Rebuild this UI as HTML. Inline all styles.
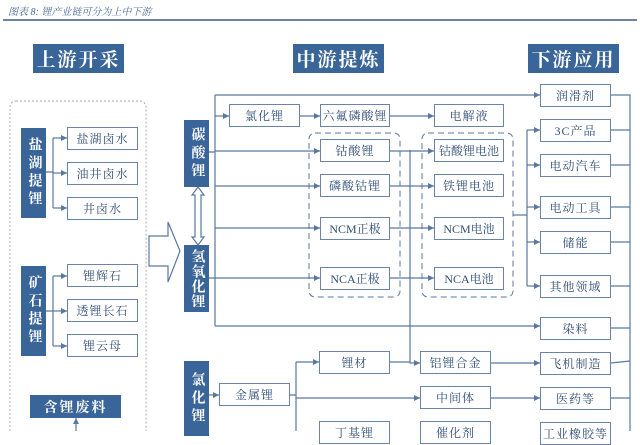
<!DOCTYPE html>
<html><head><meta charset="utf-8"><style>
body{margin:0;width:640px;height:431px;overflow:hidden;background:#fff;font-family:"Liberation Serif","Noto Serif CJK SC",serif;position:relative}
.b{position:absolute;box-sizing:border-box;border:1.5px solid #6b84a6;background:#fff;color:#2f4d78;font-size:12px;display:flex;align-items:center;justify-content:center;letter-spacing:1px}
.h{position:absolute;background:#3a6598;color:#fff;font-size:19px;font-weight:bold;display:flex;align-items:center;justify-content:center;letter-spacing:2px}
.v{position:absolute;background:#3a6598;color:#fff;font-size:14px;font-weight:bold;display:flex;align-items:center;justify-content:center;writing-mode:vertical-rl;letter-spacing:4px;text-orientation:upright}
svg{position:absolute;left:0;top:0}
</style></head><body>
<div style="position:absolute;left:8px;top:3px;font-size:10px;color:#4a6a96;font-style:italic">图表 8:  锂产业链可分为上中下游</div>
<svg width="640" height="431">
<defs><marker id="a" markerWidth="6" markerHeight="6" refX="5" refY="3" orient="auto"><path d="M0,0.5 L5,3 L0,5.5z" fill="#5a77a0"/></marker></defs>
<line x1="3" y1="20" x2="637" y2="20" stroke="#3d5a80" stroke-width="1.5"/>
<rect x="10" y="101" width="136" height="340" rx="6" fill="none" stroke="#aaa" stroke-dasharray="2,2"/>
<g stroke="#5a77a0" stroke-width="1.2" fill="none">
<path d="M46,172 H53 M53,138 V208"/>
<path d="M53,138 H67" marker-end="url(#a)"/><path d="M53,173 H67" marker-end="url(#a)"/><path d="M53,208 H67" marker-end="url(#a)"/>
<path d="M46,311 H53 M53,276 V346"/>
<path d="M53,276 H67" marker-end="url(#a)"/><path d="M53,311 H67" marker-end="url(#a)"/><path d="M53,346 H67" marker-end="url(#a)"/>
<path d="M76,431 V418" marker-end="url(#a)"/>
<path d="M209,152 H215 M215,95 V326 M209,278 H215"/>
<path d="M215,95 H540" marker-end="url(#a)"/>
<path d="M215,116 H229" marker-end="url(#a)"/>
<path d="M300,116 H320" marker-end="url(#a)"/>
<path d="M390,116 H434" marker-end="url(#a)"/>
<path d="M215,151 H320" marker-end="url(#a)"/>
<path d="M215,186 H320" marker-end="url(#a)"/>
<path d="M215,228 H320" marker-end="url(#a)"/>
<path d="M215,278 H320" marker-end="url(#a)"/>
<path d="M215,326 H540" marker-end="url(#a)"/>
<path d="M390,151 H434" marker-end="url(#a)"/>
<path d="M390,186 H434" marker-end="url(#a)"/>
<path d="M390,228 H434" marker-end="url(#a)"/>
<path d="M390,278 H434" marker-end="url(#a)"/>
<path d="M410,150 V363 H420" marker-end="url(#a)"/>
<path d="M513,215 H527 M527,130 V286"/>
<path d="M527,130 H540" marker-end="url(#a)"/><path d="M527,165 H540" marker-end="url(#a)"/><path d="M527,207 H540" marker-end="url(#a)"/><path d="M527,242 H540" marker-end="url(#a)"/><path d="M527,286 H540" marker-end="url(#a)"/>
<path d="M611,95 H630 V431 M611,130 H630 M611,165 H630 M611,207 H630 M611,242 H630 M611,286 H630 M611,328 H630 M611,363 L630,361 M611,398 H630"/>
<path d="M209,395 H219" marker-end="url(#a)"/>
<path d="M290,395 H296 M296,362 V431"/>
<path d="M296,362 H319" marker-end="url(#a)"/>
<path d="M296,398 H420" marker-end="url(#a)"/>
<path d="M390,362 H410"/>
<path d="M491,363 H540" marker-end="url(#a)"/>
<path d="M491,398 H540" marker-end="url(#a)"/>
</g>
<rect x="309" y="133" width="91" height="164" rx="6" fill="none" stroke="#5a77a0" stroke-dasharray="6,4"/>
<rect x="422" y="133" width="91" height="164" rx="6" fill="none" stroke="#5a77a0" stroke-dasharray="6,4"/>
<path d="M149,236 H168 V222 L180,251 L168,282 V266 H149z" fill="#fff" stroke="#5a77a0" stroke-width="1.2"/>
<path d="M198,187 L204,195 H201 V237 H204 L198,245 L192,237 H195 V195 H192z" fill="#fff" stroke="#5a77a0" stroke-width="1.2"/>
</svg>
<div class="h" style="left:33px;top:44px;width:91px;height:29px">上游开采</div>
<div class="h" style="left:293px;top:44px;width:91px;height:29px">中游提炼</div>
<div class="h" style="left:528px;top:44px;width:91px;height:29px">下游应用</div>
<div class="v" style="left:21px;top:128px;width:25px;height:90px">盐湖提锂</div>
<div class="v" style="left:21px;top:266px;width:25px;height:90px">矿石提锂</div>
<div class="h" style="left:30px;top:395px;width:91px;height:23px;font-size:14px">含锂废料</div>
<div class="b" style="left:67px;top:127px;width:71px;height:23px">盐湖卤水</div>
<div class="b" style="left:67px;top:162px;width:71px;height:23px">油井卤水</div>
<div class="b" style="left:67px;top:197px;width:71px;height:23px">井卤水</div>
<div class="b" style="left:67px;top:264px;width:71px;height:23px">锂辉石</div>
<div class="b" style="left:67px;top:299px;width:71px;height:23px">透锂长石</div>
<div class="b" style="left:67px;top:334px;width:71px;height:23px">锂云母</div>
<div class="v" style="left:184px;top:120px;width:25px;height:67px">碳酸锂</div>
<div class="v" style="left:184px;top:245px;width:25px;height:67px;letter-spacing:1px">氢氧化锂</div>
<div class="v" style="left:184px;top:361px;width:25px;height:75px">氯化锂</div>
<div class="b" style="left:229px;top:104px;width:71px;height:23px">氯化锂</div>
<div class="b" style="left:320px;top:104px;width:70px;height:23px">六氟磷酸锂</div>
<div class="b" style="left:434px;top:104px;width:70px;height:23px">电解液</div>
<div class="b" style="left:320px;top:139px;width:70px;height:23px">钴酸锂</div>
<div class="b" style="left:320px;top:174px;width:70px;height:23px">磷酸钴锂</div>
<div class="b" style="left:320px;top:217px;width:70px;height:23px;letter-spacing:0">NCM正极</div>
<div class="b" style="left:320px;top:267px;width:70px;height:23px;letter-spacing:0">NCA正极</div>
<div class="b" style="left:434px;top:139px;width:70px;height:23px;letter-spacing:0">钴酸锂电池</div>
<div class="b" style="left:434px;top:174px;width:70px;height:23px">铁锂电池</div>
<div class="b" style="left:434px;top:217px;width:70px;height:23px;letter-spacing:0">NCM电池</div>
<div class="b" style="left:434px;top:267px;width:70px;height:23px;letter-spacing:0">NCA电池</div>
<div class="b" style="left:540px;top:84px;width:71px;height:23px">润滑剂</div>
<div class="b" style="left:540px;top:119px;width:71px;height:23px">3C产品</div>
<div class="b" style="left:540px;top:154px;width:71px;height:23px">电动汽车</div>
<div class="b" style="left:540px;top:196px;width:71px;height:23px">电动工具</div>
<div class="b" style="left:540px;top:231px;width:71px;height:23px">储能</div>
<div class="b" style="left:540px;top:275px;width:71px;height:23px">其他领域</div>
<div class="b" style="left:540px;top:317px;width:71px;height:23px">染料</div>
<div class="b" style="left:540px;top:352px;width:71px;height:23px">飞机制造</div>
<div class="b" style="left:540px;top:387px;width:71px;height:23px">医药等</div>
<div class="b" style="left:540px;top:422px;width:71px;height:23px">工业橡胶等</div>
<div class="b" style="left:219px;top:383px;width:71px;height:23px">金属锂</div>
<div class="b" style="left:319px;top:351px;width:71px;height:23px">锂材</div>
<div class="b" style="left:319px;top:421px;width:71px;height:23px">丁基锂</div>
<div class="b" style="left:420px;top:351px;width:71px;height:23px">铝锂合金</div>
<div class="b" style="left:420px;top:386px;width:71px;height:23px">中间体</div>
<div class="b" style="left:420px;top:421px;width:71px;height:23px">催化剂</div>
</body></html>
